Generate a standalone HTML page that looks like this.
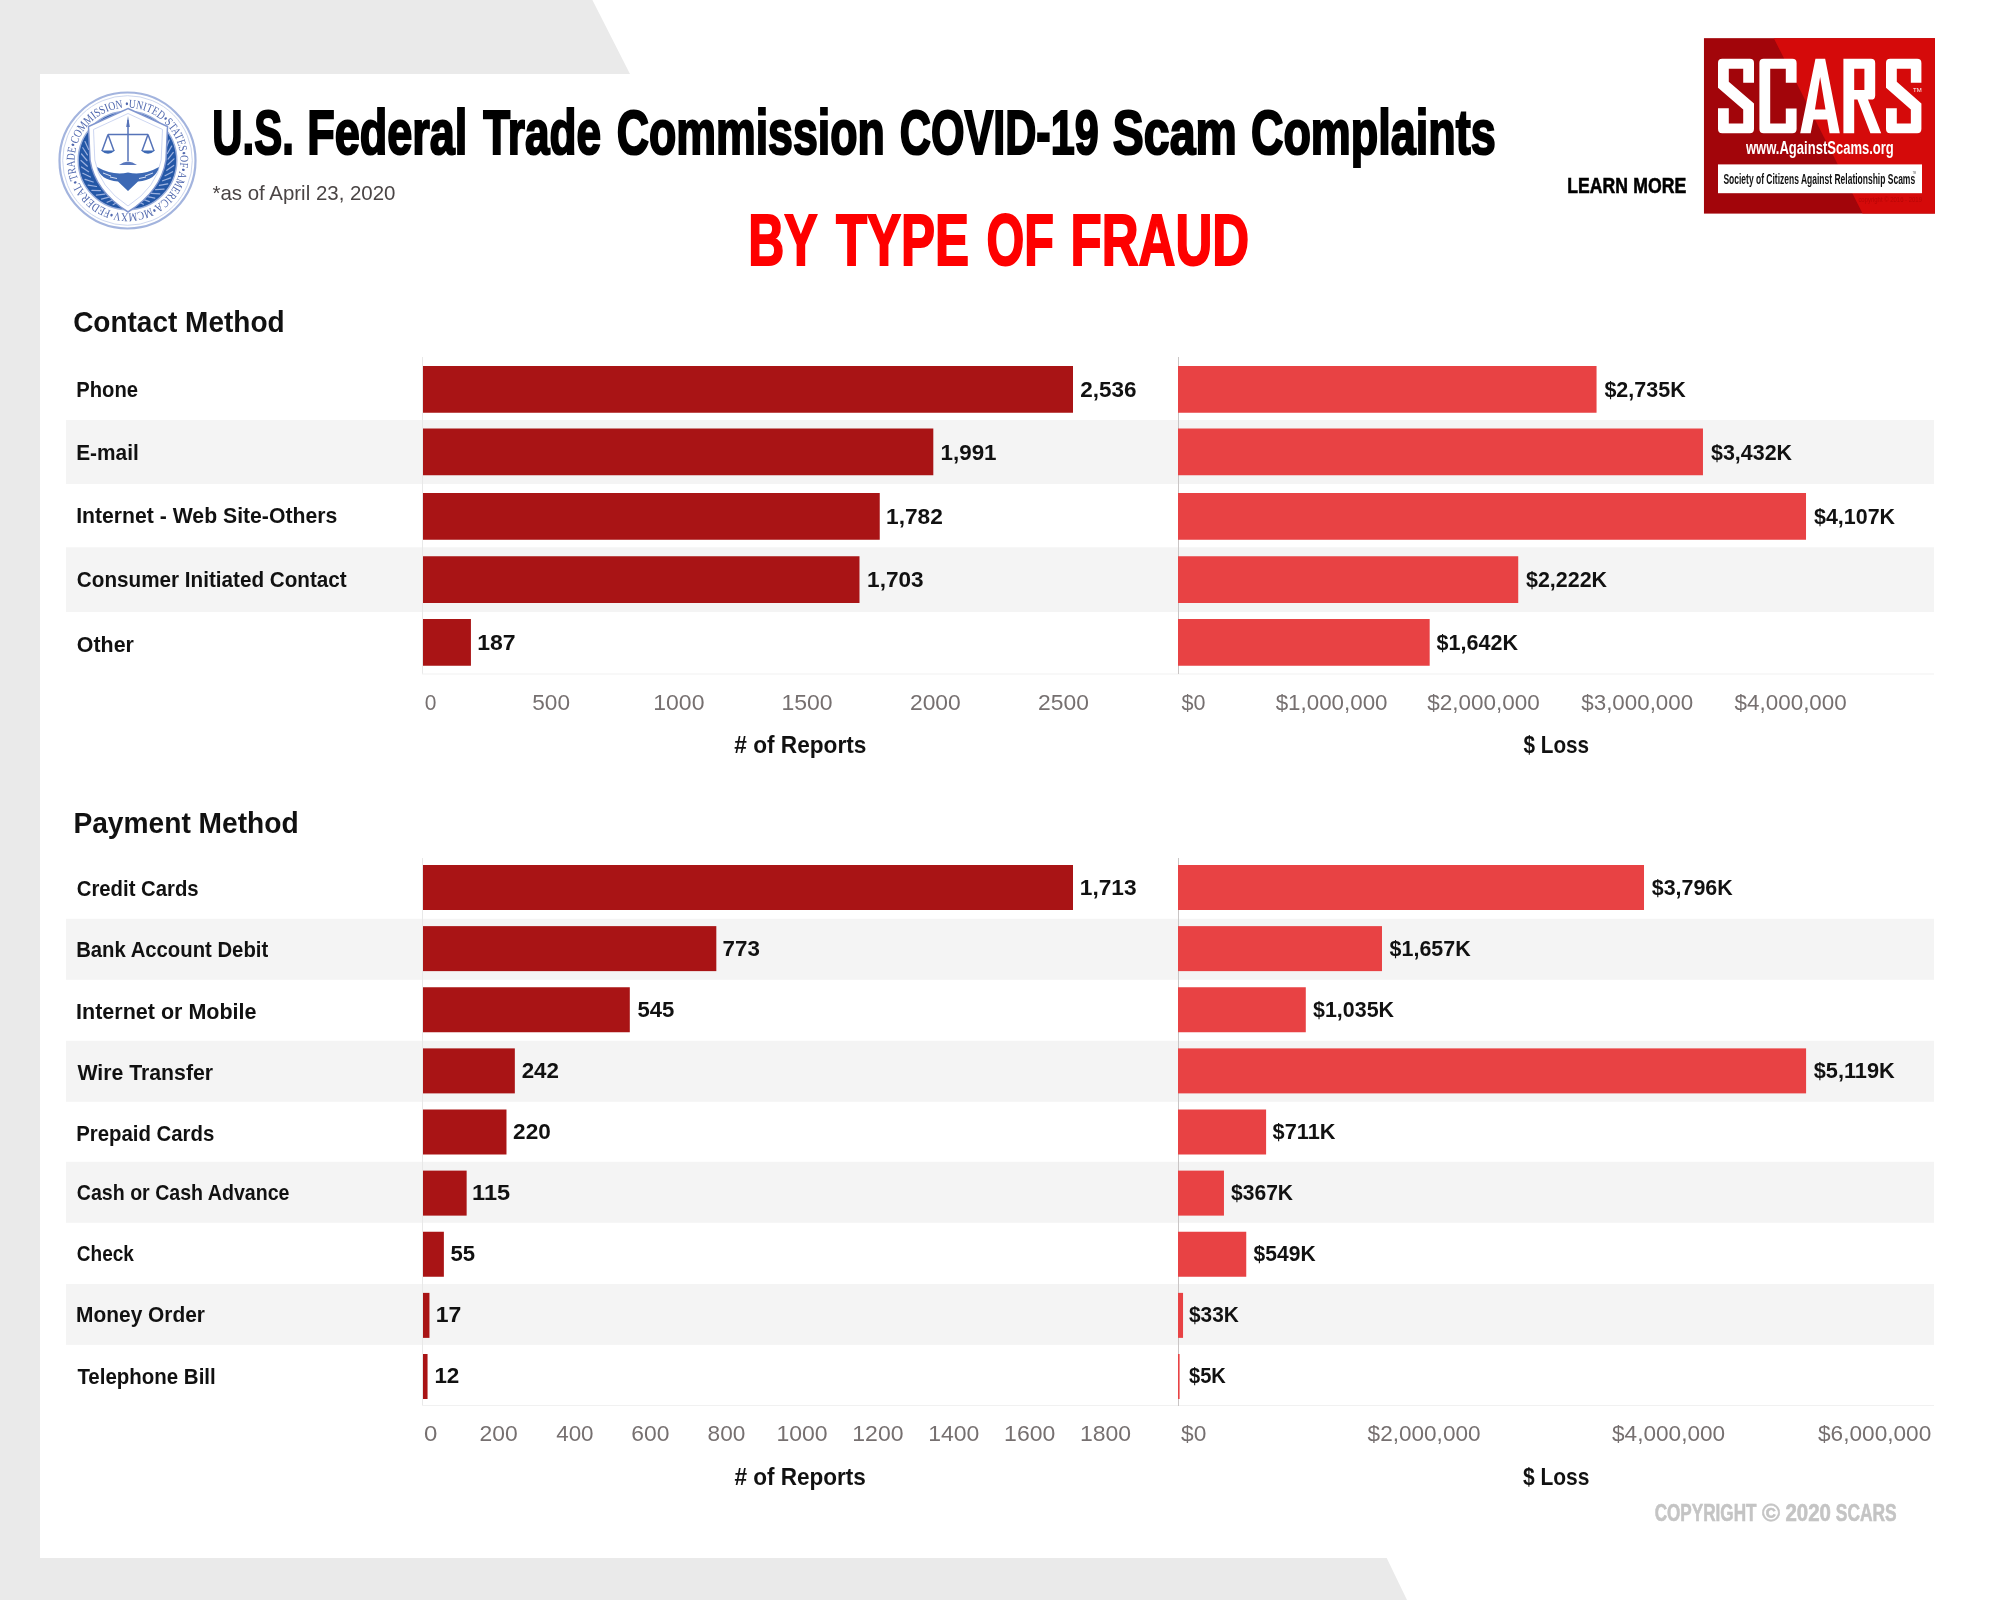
<!DOCTYPE html>
<html><head><meta charset="utf-8"><title>FTC COVID-19 Scam Complaints</title>
<style>
html,body{margin:0;padding:0;background:#eaeaea;width:2000px;height:1600px;overflow:hidden;}
svg{display:block;font-family:"Liberation Sans",sans-serif;will-change:transform;}
</style></head><body>
<svg width="2000" height="1600" viewBox="0 0 2000 1600">
<rect x="0" y="0" width="2000" height="1600" fill="#eaeaea"/>
<polygon points="40,74 630,74 592.4,0 2000,0 2000,1600 1407,1600 1386.7,1558 40,1558" fill="#ffffff"/>
<rect x="66" y="420" width="1868" height="64" fill="#f4f4f4"/>
<rect x="66" y="547.3" width="1868" height="64.70000000000005" fill="#f4f4f4"/>
<rect x="422" y="357" width="1" height="317" fill="#e8e8e8"/>
<rect x="422" y="673.5" width="1512" height="1" fill="#f1f1f1"/>
<rect x="1178" y="357" width="1" height="317" fill="#c9c5c5"/>
<rect x="423" y="366" width="650.00" height="46.75" fill="#a91415"/>
<rect x="1178" y="366" width="418.55" height="46.75" fill="#e84244"/>
<rect x="423" y="428.5" width="510.31" height="46.75" fill="#a91415"/>
<rect x="1178" y="428.5" width="524.96" height="46.75" fill="#e84244"/>
<rect x="423" y="493" width="456.74" height="46.75" fill="#a91415"/>
<rect x="1178" y="493" width="628.02" height="46.75" fill="#e84244"/>
<rect x="423" y="556.25" width="436.49" height="46.75" fill="#a91415"/>
<rect x="1178" y="556.25" width="340.23" height="46.75" fill="#e84244"/>
<rect x="423" y="619" width="47.93" height="46.75" fill="#a91415"/>
<rect x="1178" y="619" width="251.68" height="46.75" fill="#e84244"/>
<rect x="66" y="918.8" width="1868" height="61.00" fill="#f4f4f4"/>
<rect x="66" y="1040.8" width="1868" height="61.00" fill="#f4f4f4"/>
<rect x="66" y="1161.8" width="1868" height="61.00" fill="#f4f4f4"/>
<rect x="66" y="1284" width="1868" height="60.90" fill="#f4f4f4"/>
<rect x="422" y="858" width="1" height="548" fill="#e8e8e8"/>
<rect x="422" y="1405" width="1512" height="1" fill="#f1f1f1"/>
<rect x="1178" y="858" width="1" height="548" fill="#c9c5c5"/>
<rect x="423" y="865.00" width="650.00" height="45" fill="#a91415"/>
<rect x="1178" y="865.00" width="466.01" height="45" fill="#e84244"/>
<rect x="423" y="926.12" width="293.32" height="45" fill="#a91415"/>
<rect x="1178" y="926.12" width="203.98" height="45" fill="#e84244"/>
<rect x="423" y="987.25" width="206.80" height="45" fill="#a91415"/>
<rect x="1178" y="987.25" width="127.79" height="45" fill="#e84244"/>
<rect x="423" y="1048.38" width="91.83" height="45" fill="#a91415"/>
<rect x="1178" y="1048.38" width="628.08" height="45" fill="#e84244"/>
<rect x="423" y="1109.50" width="83.48" height="45" fill="#a91415"/>
<rect x="1178" y="1109.50" width="88.10" height="45" fill="#e84244"/>
<rect x="423" y="1170.62" width="43.64" height="45" fill="#a91415"/>
<rect x="1178" y="1170.62" width="45.96" height="45" fill="#e84244"/>
<rect x="423" y="1231.75" width="20.87" height="45" fill="#a91415"/>
<rect x="1178" y="1231.75" width="68.25" height="45" fill="#e84244"/>
<rect x="423" y="1292.88" width="6.45" height="45" fill="#a91415"/>
<rect x="1178" y="1292.88" width="5.04" height="45" fill="#e84244"/>
<rect x="423" y="1354.00" width="4.55" height="45" fill="#a91415"/>
<rect x="1178" y="1354.00" width="1.61" height="45" fill="#e84244"/>
<text x="212.34" y="154.40" font-size="63.23" font-weight="bold" fill="#000" stroke="#000" stroke-width="2.20" textLength="81.44" lengthAdjust="spacingAndGlyphs">U.S.</text>
<text x="307.19" y="154.40" font-size="63.23" font-weight="bold" fill="#000" stroke="#000" stroke-width="2.20" textLength="160.07" lengthAdjust="spacingAndGlyphs">Federal</text>
<text x="483.30" y="154.40" font-size="63.23" font-weight="bold" fill="#000" stroke="#000" stroke-width="2.20" textLength="117.70" lengthAdjust="spacingAndGlyphs">Trade</text>
<text x="616.70" y="154.40" font-size="63.23" font-weight="bold" fill="#000" stroke="#000" stroke-width="2.20" textLength="268.11" lengthAdjust="spacingAndGlyphs">Commission</text>
<text x="899.75" y="154.40" font-size="63.23" font-weight="bold" fill="#000" stroke="#000" stroke-width="2.20" textLength="198.97" lengthAdjust="spacingAndGlyphs">COVID-19</text>
<text x="1112.87" y="154.40" font-size="63.23" font-weight="bold" fill="#000" stroke="#000" stroke-width="2.20" textLength="123.86" lengthAdjust="spacingAndGlyphs">Scam</text>
<text x="1250.95" y="154.40" font-size="63.23" font-weight="bold" fill="#000" stroke="#000" stroke-width="2.20" textLength="244.78" lengthAdjust="spacingAndGlyphs">Complaints</text>
<text x="212.48" y="200.00" font-size="19.62" font-weight="normal" fill="#4a4545" textLength="183.02" lengthAdjust="spacingAndGlyphs">*as of April 23, 2020</text>
<text x="748.28" y="265.30" font-size="71.95" font-weight="bold" fill="#fe0000" stroke="#fe0000" stroke-width="2.00" textLength="69.25" lengthAdjust="spacingAndGlyphs">BY</text>
<text x="835.90" y="265.30" font-size="71.95" font-weight="bold" fill="#fe0000" stroke="#fe0000" stroke-width="2.00" textLength="133.25" lengthAdjust="spacingAndGlyphs">TYPE</text>
<text x="986.48" y="265.30" font-size="71.95" font-weight="bold" fill="#fe0000" stroke="#fe0000" stroke-width="2.00" textLength="67.40" lengthAdjust="spacingAndGlyphs">OF</text>
<text x="1070.61" y="265.30" font-size="71.95" font-weight="bold" fill="#fe0000" stroke="#fe0000" stroke-width="2.00" textLength="178.46" lengthAdjust="spacingAndGlyphs">FRAUD</text>
<text x="1567.20" y="193.40" font-size="21.95" font-weight="bold" fill="#000" stroke="#000" stroke-width="0.60" textLength="60.66" lengthAdjust="spacingAndGlyphs">LEARN</text>
<text x="1633.20" y="193.40" font-size="21.95" font-weight="bold" fill="#000" stroke="#000" stroke-width="0.60" textLength="52.97" lengthAdjust="spacingAndGlyphs">MORE</text>
<text x="1654.66" y="1521.40" font-size="23.55" font-weight="bold" fill="#c4c4c4" stroke="#c4c4c4" stroke-width="0.60" textLength="101.86" lengthAdjust="spacingAndGlyphs">COPYRIGHT</text>
<text x="1762.12" y="1521.40" font-size="23.55" font-weight="bold" fill="#c4c4c4" stroke="#c4c4c4" stroke-width="0.60" textLength="18.04" lengthAdjust="spacingAndGlyphs">©</text>
<text x="1785.46" y="1521.40" font-size="23.55" font-weight="bold" fill="#c4c4c4" stroke="#c4c4c4" stroke-width="0.60" textLength="45.47" lengthAdjust="spacingAndGlyphs">2020</text>
<text x="1835.83" y="1521.40" font-size="23.55" font-weight="bold" fill="#c4c4c4" stroke="#c4c4c4" stroke-width="0.60" textLength="60.83" lengthAdjust="spacingAndGlyphs">SCARS</text>
<text x="73.13" y="332.00" font-size="29.07" font-weight="bold" fill="#111111" textLength="211.47" lengthAdjust="spacingAndGlyphs">Contact Method</text>
<text x="73.44" y="832.60" font-size="28.78" font-weight="bold" fill="#111111" textLength="225.26" lengthAdjust="spacingAndGlyphs">Payment Method</text>
<text x="76.24" y="397.00" font-size="22.24" font-weight="bold" fill="#111111" textLength="61.77" lengthAdjust="spacingAndGlyphs">Phone</text>
<text x="76.20" y="460.40" font-size="22.24" font-weight="bold" fill="#111111" textLength="62.53" lengthAdjust="spacingAndGlyphs">E-mail</text>
<text x="76.18" y="523.40" font-size="22.24" font-weight="bold" fill="#111111" textLength="261.08" lengthAdjust="spacingAndGlyphs">Internet - Web Site-Others</text>
<text x="76.85" y="587.00" font-size="22.24" font-weight="bold" fill="#111111" textLength="269.85" lengthAdjust="spacingAndGlyphs">Consumer Initiated Contact</text>
<text x="76.83" y="651.50" font-size="22.24" font-weight="bold" fill="#111111" textLength="57.07" lengthAdjust="spacingAndGlyphs">Other</text>
<text x="76.77" y="895.60" font-size="22.24" font-weight="bold" fill="#111111" textLength="121.86" lengthAdjust="spacingAndGlyphs">Credit Cards</text>
<text x="76.14" y="957.00" font-size="22.24" font-weight="bold" fill="#111111" textLength="192.06" lengthAdjust="spacingAndGlyphs">Bank Account Debit</text>
<text x="76.06" y="1019.00" font-size="22.24" font-weight="bold" fill="#111111" textLength="180.48" lengthAdjust="spacingAndGlyphs">Internet or Mobile</text>
<text x="77.40" y="1079.80" font-size="22.24" font-weight="bold" fill="#111111" textLength="135.70" lengthAdjust="spacingAndGlyphs">Wire Transfer</text>
<text x="76.13" y="1140.90" font-size="22.24" font-weight="bold" fill="#111111" textLength="138.10" lengthAdjust="spacingAndGlyphs">Prepaid Cards</text>
<text x="76.79" y="1200.20" font-size="22.24" font-weight="bold" fill="#111111" textLength="212.70" lengthAdjust="spacingAndGlyphs">Cash or Cash Advance</text>
<text x="76.81" y="1261.20" font-size="22.24" font-weight="bold" fill="#111111" textLength="57.07" lengthAdjust="spacingAndGlyphs">Check</text>
<text x="76.09" y="1322.30" font-size="22.24" font-weight="bold" fill="#111111" textLength="128.90" lengthAdjust="spacingAndGlyphs">Money Order</text>
<text x="77.40" y="1383.50" font-size="22.24" font-weight="bold" fill="#111111" textLength="138.31" lengthAdjust="spacingAndGlyphs">Telephone Bill</text>
<text x="1080.30" y="397.25" font-size="22.17" font-weight="bold" fill="#111111" textLength="56.26" lengthAdjust="spacingAndGlyphs">2,536</text>
<text x="940.50" y="460.25" font-size="22.17" font-weight="bold" fill="#111111" textLength="56.06" lengthAdjust="spacingAndGlyphs">1,991</text>
<text x="886.08" y="523.75" font-size="22.17" font-weight="bold" fill="#111111" textLength="56.73" lengthAdjust="spacingAndGlyphs">1,782</text>
<text x="867.09" y="586.90" font-size="22.17" font-weight="bold" fill="#111111" textLength="56.47" lengthAdjust="spacingAndGlyphs">1,703</text>
<text x="477.26" y="650.00" font-size="22.17" font-weight="bold" fill="#111111" textLength="38.37" lengthAdjust="spacingAndGlyphs">187</text>
<text x="1604.40" y="397.00" font-size="22.17" font-weight="bold" fill="#111111" textLength="81.27" lengthAdjust="spacingAndGlyphs">$2,735K</text>
<text x="1711.00" y="460.00" font-size="22.17" font-weight="bold" fill="#111111" textLength="81.07" lengthAdjust="spacingAndGlyphs">$3,432K</text>
<text x="1814.00" y="524.20" font-size="22.17" font-weight="bold" fill="#111111" textLength="81.07" lengthAdjust="spacingAndGlyphs">$4,107K</text>
<text x="1526.00" y="587.00" font-size="22.17" font-weight="bold" fill="#111111" textLength="81.07" lengthAdjust="spacingAndGlyphs">$2,222K</text>
<text x="1436.60" y="650.00" font-size="22.17" font-weight="bold" fill="#111111" textLength="81.47" lengthAdjust="spacingAndGlyphs">$1,642K</text>
<text x="1079.78" y="895.00" font-size="22.17" font-weight="bold" fill="#111111" textLength="56.78" lengthAdjust="spacingAndGlyphs">1,713</text>
<text x="722.60" y="955.60" font-size="22.17" font-weight="bold" fill="#111111" textLength="37.25" lengthAdjust="spacingAndGlyphs">773</text>
<text x="637.45" y="1016.80" font-size="22.17" font-weight="bold" fill="#111111" textLength="36.90" lengthAdjust="spacingAndGlyphs">545</text>
<text x="521.70" y="1078.00" font-size="22.17" font-weight="bold" fill="#111111" textLength="37.25" lengthAdjust="spacingAndGlyphs">242</text>
<text x="513.10" y="1138.70" font-size="22.17" font-weight="bold" fill="#111111" textLength="37.62" lengthAdjust="spacingAndGlyphs">220</text>
<text x="472.13" y="1199.70" font-size="22.17" font-weight="bold" fill="#111111" textLength="38.06" lengthAdjust="spacingAndGlyphs">115</text>
<text x="450.45" y="1260.90" font-size="22.17" font-weight="bold" fill="#111111" textLength="24.60" lengthAdjust="spacingAndGlyphs">55</text>
<text x="435.66" y="1322.40" font-size="22.17" font-weight="bold" fill="#111111" textLength="25.57" lengthAdjust="spacingAndGlyphs">17</text>
<text x="434.40" y="1383.20" font-size="22.17" font-weight="bold" fill="#111111" textLength="24.96" lengthAdjust="spacingAndGlyphs">12</text>
<text x="1651.75" y="895.00" font-size="22.17" font-weight="bold" fill="#111111" textLength="81.02" lengthAdjust="spacingAndGlyphs">$3,796K</text>
<text x="1389.60" y="956.00" font-size="22.17" font-weight="bold" fill="#111111" textLength="81.07" lengthAdjust="spacingAndGlyphs">$1,657K</text>
<text x="1313.00" y="1016.60" font-size="22.17" font-weight="bold" fill="#111111" textLength="81.07" lengthAdjust="spacingAndGlyphs">$1,035K</text>
<text x="1813.70" y="1077.50" font-size="22.17" font-weight="bold" fill="#111111" textLength="81.07" lengthAdjust="spacingAndGlyphs">$5,119K</text>
<text x="1272.60" y="1138.60" font-size="22.17" font-weight="bold" fill="#111111" textLength="62.87" lengthAdjust="spacingAndGlyphs">$711K</text>
<text x="1231.00" y="1199.80" font-size="22.17" font-weight="bold" fill="#111111" textLength="62.07" lengthAdjust="spacingAndGlyphs">$367K</text>
<text x="1253.60" y="1260.80" font-size="22.17" font-weight="bold" fill="#111111" textLength="62.07" lengthAdjust="spacingAndGlyphs">$549K</text>
<text x="1189.00" y="1321.70" font-size="22.17" font-weight="bold" fill="#111111" textLength="49.82" lengthAdjust="spacingAndGlyphs">$33K</text>
<text x="1189.00" y="1382.70" font-size="22.17" font-weight="bold" fill="#111111" textLength="36.87" lengthAdjust="spacingAndGlyphs">$5K</text>
<text x="424.84" y="710.00" font-size="21.80" font-weight="normal" fill="#767070" textLength="11.68" lengthAdjust="spacingAndGlyphs">0</text>
<text x="532.24" y="710.00" font-size="21.80" font-weight="normal" fill="#767070" textLength="37.77" lengthAdjust="spacingAndGlyphs">500</text>
<text x="653.26" y="710.00" font-size="21.80" font-weight="normal" fill="#767070" textLength="51.21" lengthAdjust="spacingAndGlyphs">1000</text>
<text x="781.46" y="710.00" font-size="21.80" font-weight="normal" fill="#767070" textLength="51.21" lengthAdjust="spacingAndGlyphs">1500</text>
<text x="909.93" y="710.00" font-size="21.80" font-weight="normal" fill="#767070" textLength="50.84" lengthAdjust="spacingAndGlyphs">2000</text>
<text x="1038.13" y="710.00" font-size="21.80" font-weight="normal" fill="#767070" textLength="50.84" lengthAdjust="spacingAndGlyphs">2500</text>
<text x="1181.60" y="710.00" font-size="21.80" font-weight="normal" fill="#767070" textLength="23.94" lengthAdjust="spacingAndGlyphs">$0</text>
<text x="1275.70" y="710.00" font-size="21.80" font-weight="normal" fill="#767070" textLength="111.86" lengthAdjust="spacingAndGlyphs">$1,000,000</text>
<text x="1427.30" y="710.00" font-size="21.80" font-weight="normal" fill="#767070" textLength="112.56" lengthAdjust="spacingAndGlyphs">$2,000,000</text>
<text x="1581.30" y="710.00" font-size="21.80" font-weight="normal" fill="#767070" textLength="111.86" lengthAdjust="spacingAndGlyphs">$3,000,000</text>
<text x="1734.60" y="710.00" font-size="21.80" font-weight="normal" fill="#767070" textLength="112.16" lengthAdjust="spacingAndGlyphs">$4,000,000</text>
<text x="734.25" y="752.80" font-size="23.26" font-weight="bold" fill="#111111" textLength="132.07" lengthAdjust="spacingAndGlyphs"># of Reports</text>
<text x="1523.50" y="752.80" font-size="23.26" font-weight="bold" fill="#111111" textLength="65.64" lengthAdjust="spacingAndGlyphs">$ Loss</text>
<text x="424.05" y="1441.20" font-size="21.80" font-weight="normal" fill="#767070" textLength="13.35" lengthAdjust="spacingAndGlyphs">0</text>
<text x="479.57" y="1441.20" font-size="21.80" font-weight="normal" fill="#767070" textLength="38.14" lengthAdjust="spacingAndGlyphs">200</text>
<text x="556.18" y="1441.20" font-size="21.80" font-weight="normal" fill="#767070" textLength="37.41" lengthAdjust="spacingAndGlyphs">400</text>
<text x="631.35" y="1441.20" font-size="21.80" font-weight="normal" fill="#767070" textLength="38.14" lengthAdjust="spacingAndGlyphs">600</text>
<text x="707.60" y="1441.20" font-size="21.80" font-weight="normal" fill="#767070" textLength="37.77" lengthAdjust="spacingAndGlyphs">800</text>
<text x="776.41" y="1441.20" font-size="21.80" font-weight="normal" fill="#767070" textLength="51.21" lengthAdjust="spacingAndGlyphs">1000</text>
<text x="852.30" y="1441.20" font-size="21.80" font-weight="normal" fill="#767070" textLength="51.21" lengthAdjust="spacingAndGlyphs">1200</text>
<text x="928.19" y="1441.20" font-size="21.80" font-weight="normal" fill="#767070" textLength="51.21" lengthAdjust="spacingAndGlyphs">1400</text>
<text x="1004.08" y="1441.20" font-size="21.80" font-weight="normal" fill="#767070" textLength="51.21" lengthAdjust="spacingAndGlyphs">1600</text>
<text x="1079.97" y="1441.20" font-size="21.80" font-weight="normal" fill="#767070" textLength="51.21" lengthAdjust="spacingAndGlyphs">1800</text>
<text x="1181.00" y="1441.20" font-size="21.80" font-weight="normal" fill="#767070" textLength="25.27" lengthAdjust="spacingAndGlyphs">$0</text>
<text x="1367.60" y="1441.20" font-size="21.80" font-weight="normal" fill="#767070" textLength="112.96" lengthAdjust="spacingAndGlyphs">$2,000,000</text>
<text x="1612.00" y="1441.20" font-size="21.80" font-weight="normal" fill="#767070" textLength="113.16" lengthAdjust="spacingAndGlyphs">$4,000,000</text>
<text x="1818.00" y="1441.20" font-size="21.80" font-weight="normal" fill="#767070" textLength="113.26" lengthAdjust="spacingAndGlyphs">$6,000,000</text>
<text x="734.45" y="1485.00" font-size="23.26" font-weight="bold" fill="#111111" textLength="131.47" lengthAdjust="spacingAndGlyphs"># of Reports</text>
<text x="1523.00" y="1485.00" font-size="23.26" font-weight="bold" fill="#111111" textLength="66.45" lengthAdjust="spacingAndGlyphs">$ Loss</text>
<g>
<circle cx="127.5" cy="160.5" r="68" fill="#ffffff" stroke="#a3b4de" stroke-width="2.2"/>
<circle cx="127.5" cy="160.5" r="64.8" fill="none" stroke="#c6d1ec" stroke-width="0.9"/>
<defs><path id="sealring" d="M125.20,107.75 A52.8,52.8 0 1,1 129.80,213.25 A52.8,52.8 0 1,1 125.20,107.75"/></defs>
<text font-family="Liberation Serif" font-size="12" fill="#5068ae" textLength="329" lengthAdjust="spacingAndGlyphs"><textPath href="#sealring" startOffset="0" textLength="329" lengthAdjust="spacingAndGlyphs">&#8226;UNITED&#8226;STATES&#8226;OF&#8226;AMERICA&#8226;MCMXV&#8226;FEDERAL&#8226;TRADE&#8226;COMMISSION</textPath></text>
<circle cx="127.5" cy="160.5" r="49.3" fill="#2457a6" stroke="#9db0dc" stroke-width="1.4"/>
<path d="M113.1,204.7 L120.5,200.4 M107.1,202.3 L115.0,199.0 M101.5,199.1 L109.8,196.9 M96.4,195.1 L104.9,194.1 M91.9,190.4 L100.4,190.6 M88.1,185.1 L96.5,186.5 M85.0,179.4 L93.2,182.0 M82.8,173.3 L90.5,177.0 M81.5,167.0 L88.6,171.7 M81.0,160.5 L87.4,166.2 M81.5,154.0 L87.0,160.5 M82.8,147.7 L87.4,154.9 M85.0,141.6 L88.6,149.4 M169.3,140.1 L166.0,148.0 M171.7,146.1 L167.4,153.5 M173.3,152.4 L168.0,159.1 M174.0,158.9 L167.8,164.7 M173.7,165.4 L166.8,170.3 M172.6,171.7 L165.0,175.7 M170.6,177.9 L162.6,180.8 M167.8,183.8 L159.4,185.4 M164.1,189.1 L155.6,189.6 M159.8,193.9 L151.3,193.3 M154.8,198.1 L146.5,196.3 M149.3,201.6 L141.3,198.6 M143.4,204.2 L135.9,200.1" stroke="#9cb1df" stroke-width="1.2" stroke-linecap="round" fill="none"/>
<path d="M128,108.5 L167.5,126.5 L166,160 Q161,191 128,212 Q95,191 90,160 L88.5,126.5 Z" fill="#ffffff" stroke="#8096cf" stroke-width="1.5"/>
<path d="M128,113.5 L162.5,129.5 L161.2,160 Q157,187 128,206 Q99,187 94.8,160 L93.5,129.5 Z" fill="none" stroke="#c0cced" stroke-width="0.8"/>
<path d="M97,167 Q113,176 128,172.5 Q143,176 159,167 Q156,180 138,181.5 L128,191 L118,181.5 Q100,180 97,167 Z" fill="#3d69b4"/>
<path d="M103,173 l8,3 M110,177 l7,1.5 M139,178.5 l7,-1.5 M145,176 l8,-3" stroke="#d8e0f3" stroke-width="1"/>
<g fill="none" stroke="#5673b8" stroke-width="1.5">
<path d="M128,120 V161"/><path d="M108,134.5 H148"/>
<path d="M108,134.5 L102,151 M108,134.5 L114,151 M148,134.5 L142,151 M148,134.5 L154,151"/>
</g>
<path d="M101,150.5 Q108,157 115,150.5 Z" fill="#3d69b4"/><path d="M141,150.5 Q148,157 155,150.5 Z" fill="#3d69b4"/>
<path d="M119,165 Q128,158 137,165 Z" fill="#5a78bd"/>
<path d="M126.2,127 L128,116 L129.8,127 Z" fill="#5673b8"/>
</g>
<g transform="translate(1700,30) scale(0.12)">
<rect x="33" y="68" width="1925" height="1462" fill="#a2050a"/>
<polygon points="615,68 1958,68 1958,1530 1355,1530" fill="#d50a0a"/>
<g fill="#ffffff">
<path d="M185,240 H415 Q450,240 450,275 V440 H360 V322 H240 V432 L450,612 V825 Q450,860 415,860 H185 Q150,860 150,825 V652 H240 V780 H360 V662 L150,482 V275 Q150,240 185,240 Z"/>
<path d="M530,240 H770 Q805,240 805,275 V440 H715 V322 H585 V780 H715 V655 H805 V825 Q805,860 770,860 H530 Q495,860 495,825 V275 Q495,240 530,240 Z"/>
<path fill-rule="evenodd" d="M962,240 H1043 L1165,860 H1080 L1060,745 H945 L922,860 H835 Z M1001,392 L958,662 H1046 Z"/>
<path fill-rule="evenodd" d="M1195,240 H1425 Q1460,240 1460,275 V545 Q1460,580 1425,580 H1400 L1510,860 H1420 L1312,580 H1285 V860 H1195 Z M1285,322 V500 H1370 V322 Z"/>
<path d="M1585,240 H1810 Q1845,240 1845,275 V440 H1757 V322 H1640 V432 L1845,612 V825 Q1845,860 1810,860 H1585 Q1550,860 1550,825 V652 H1640 V780 H1757 V662 L1550,482 V275 Q1550,240 1585,240 Z"/>
<text x="1776" y="520" font-size="52" font-family="Liberation Sans" textLength="72" lengthAdjust="spacingAndGlyphs">TM</text>
<text x="383" y="1030" font-size="150" font-weight="bold" font-family="Liberation Sans" textLength="1232" lengthAdjust="spacingAndGlyphs">www.AgainstScams.org</text>
<rect x="150" y="1120" width="1700" height="240"/>
</g>
<text x="195" y="1280" font-size="128" font-weight="bold" font-family="Liberation Sans" fill="#111" textLength="1598" lengthAdjust="spacingAndGlyphs">Society of Citizens Against Relationship Scams</text>
<text x="1772" y="1200" font-size="30" font-family="Liberation Sans" fill="#555" textLength="28" lengthAdjust="spacingAndGlyphs">TM</text>
<text x="1320" y="1432" font-size="56" font-family="Liberation Sans" fill="#b70606" textLength="530" lengthAdjust="spacingAndGlyphs">copyright © 2016 - 2019</text>
</g>

</svg>
</body></html>
